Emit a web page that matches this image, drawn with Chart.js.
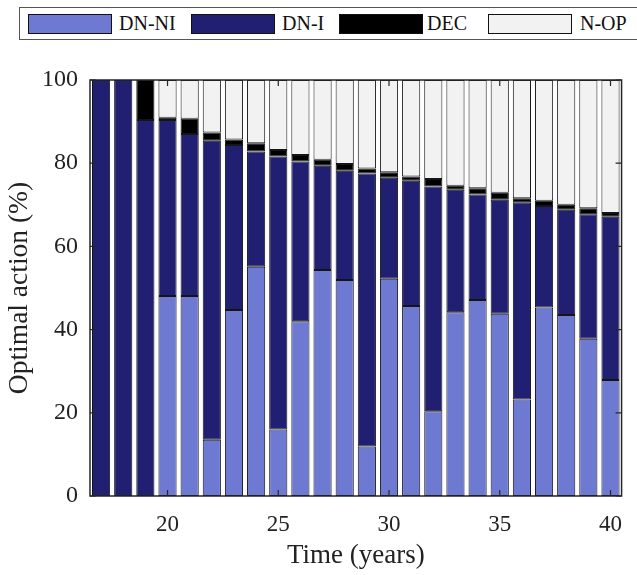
<!DOCTYPE html>
<html>
<head>
<meta charset="utf-8">
<script src="https://cdn.jsdelivr.net/npm/chart.js@4"></script>
<style>
  html, body { margin: 0; padding: 0; background: #fff; }
  #wrap { position: relative; width: 637px; height: 575px; overflow: hidden; font-family: "Liberation Serif", "Times New Roman", serif; }
  #chart { position: absolute; left: 0; top: 0; }
  #legend { position: absolute; left: 19px; top: 7px; width: 640px; height: 33px; border: 1.5px solid #555; box-sizing: border-box; background: #fff; }
  .sw { position: absolute; top: 6px; width: 84px; height: 20px; border: 1.3px solid #111; box-sizing: border-box; }
  .lt { position: absolute; top: 3px; font-size: 20px; line-height: 24px; color: #111; }
</style>
</head>
<body>
<div id="wrap">
  <canvas id="chart" width="637" height="575"></canvas>
  <div id="legend"></div>
</div>
<script>
const years = [17, 18, 19, 20, 21, 22, 23, 24, 25, 26, 27, 28, 29, 30, 31, 32, 33, 34, 35, 36, 37, 38, 39, 40];
const dnNi = [0, 0, 0, 48.1, 48.1, 13.5, 44.7, 55.1, 16.0, 42.0, 54.3, 51.9, 11.9, 52.2, 45.7, 20.4, 44.2, 47.1, 43.8, 23.2, 45.3, 43.5, 37.8, 27.9];
const dnI = [100, 100, 90.4, 42.3, 38.9, 71.9, 39.7, 27.7, 65.6, 38.4, 25.1, 26.3, 65.6, 24.3, 30.1, 54.0, 29.4, 25.4, 27.4, 47.4, 24.4, 25.3, 29.9, 39.2];
const dec = [0, 0, 9.6, 0.5, 3.7, 2.0, 1.3, 2.0, 1.6, 1.6, 1.4, 1.6, 1.2, 1.3, 1.0, 1.8, 1.0, 1.5, 1.7, 1.0, 1.3, 1.2, 1.5, 0.9];
const nOp = [0, 0, 0, 9.1, 9.3, 12.6, 14.3, 15.2, 16.8, 18.0, 19.2, 20.2, 21.3, 22.2, 23.2, 23.8, 25.4, 26.0, 27.1, 28.4, 29.0, 30.0, 30.8, 32.0];
const yTicks = [0, 20, 40, 60, 80, 100];
const xTicks = [20, 25, 30, 35, 40];

const seriesNames = ["DN-NI", "DN-I", "DEC", "N-OP"];
const colors = ["#6e79d1", "#201f72", "#000000", "#f2f2f2"];
const legendPos = [[28, 119], [191, 282], [339, 427], [488, 580]];

// legend drawn as html
const leg = document.getElementById("legend");
seriesNames.forEach((name, i) => {
    const sw = document.createElement("div");
    sw.className = "sw";
    sw.style.left = (legendPos[i][0] - 20) + "px";
    sw.style.background = colors[i];
    leg.appendChild(sw);
    const t = document.createElement("div");
    t.className = "lt";
    t.style.left = (legendPos[i][1] - 20) + "px";
    t.textContent = name;
    leg.appendChild(t);
});

const fontFam = "'Liberation Serif', 'Times New Roman', serif";

// frame + inward tick marks like matlab
const framePlugin = {
    id: "frame",
    afterDatasetsDraw(chart) {
        const { ctx, chartArea: a, scales } = chart;
        ctx.save();
        ctx.strokeStyle = "#262626";
        ctx.lineWidth = 1.5;
        ctx.strokeRect(a.left, a.top, a.right - a.left, a.bottom - a.top);
        ctx.lineWidth = 1.2;
        ctx.beginPath();
        yTicks.forEach(v => {
            const y = scales.y.getPixelForValue(v);
            ctx.moveTo(a.left, y); ctx.lineTo(a.left + 6, y);
            ctx.moveTo(a.right, y); ctx.lineTo(a.right - 6, y);
        });
        xTicks.forEach(v => {
            const x = scales.x.getPixelForValue(years.indexOf(v));
            ctx.moveTo(x, a.bottom); ctx.lineTo(x, a.bottom - 6);
            ctx.moveTo(x, a.top); ctx.lineTo(x, a.top + 6);
        });
        ctx.stroke();
        ctx.restore();
    }
};

const data = [dnNi, dnI, dec, nOp];
const ctx = document.getElementById("chart").getContext("2d");
new Chart(ctx, {
    type: "bar",
    data: {
        labels: years,
        datasets: seriesNames.map((name, i) => ({
            label: name,
            data: data[i],
            backgroundColor: colors[i],
            borderColor: "#151515",
            borderWidth: 1,
            borderSkipped: false,
            barPercentage: 0.82,
            categoryPercentage: 1.0
        }))
    },
    options: {
        responsive: false,
        animation: false,
        layout: { padding: { top: 80, left: 0, right: 0, bottom: 0 } },
        plugins: { legend: { display: false }, tooltip: { enabled: false } },
        scales: {
            x: {
                stacked: true,
                grid: { display: false, drawTicks: false },
                border: { display: false },
                ticks: {
                    autoSkip: false,
                    maxRotation: 0,
                    padding: 15,
                    color: "#222",
                    font: { family: fontFam, size: 23 },
                    callback: function (v, i) {
                        return xTicks.includes(years[i]) ? String(years[i]) : "";
                    }
                },
                title: {
                    display: true,
                    text: "Time (years)",
                    color: "#222",
                    font: { family: fontFam, size: 27 },
                    padding: { top: 0, bottom: 3 }
                },
                afterFit(scale) { scale.height = 79; }
            },
            y: {
                stacked: true,
                min: 0,
                max: 100,
                grid: { display: false, drawTicks: false },
                border: { display: false },
                ticks: {
                    stepSize: 20,
                    padding: 12,
                    color: "#222",
                    font: { family: fontFam, size: 24 }
                },
                title: {
                    display: true,
                    text: "Optimal action (%)",
                    color: "#222",
                    font: { family: fontFam, size: 27.5 },
                    padding: { top: 3, bottom: 0 }
                },
                afterFit(scale) { scale.width = 90; }
            }
        }
    },
    plugins: [framePlugin]
});
</script>
</body>
</html>
